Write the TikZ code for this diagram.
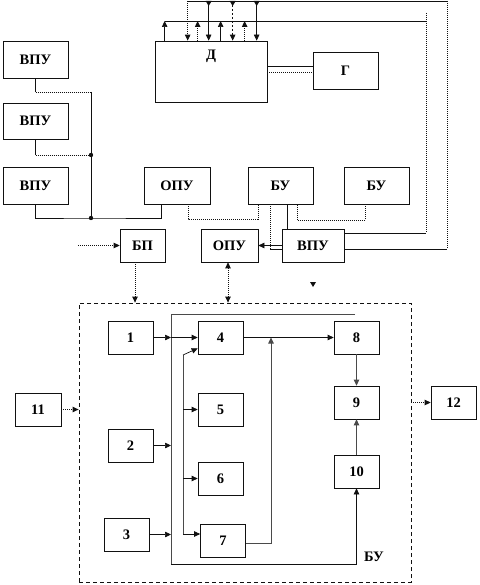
\documentclass[tikz,border=0pt]{standalone}
\usepackage{fontspec}
\setmainfont{Liberation Serif}
\usepackage{tikz}
\usepackage{xcolor}
\usetikzlibrary{arrows.meta,positioning,calc}
\definecolor{ink}{HTML}{111111}
\definecolor{inkgray}{HTML}{4A4A4A}
\tikzset{
  unitbox/.style={draw=ink,fill=white,line width=0.7pt,
                  minimum width=65pt,minimum height=37pt,
                  inner sep=0pt,align=center,font=\fontsize{14.5}{16}\selectfont\bfseries},
  numbox/.style={unitbox,minimum width=45pt,minimum height=33pt},
  wire/.style={line width=0.7pt,color=ink},
  dotwire/.style={line width=0.9pt,color=ink,dash pattern=on 1pt off 1pt},
  dashwire/.style={line width=0.8pt,color=ink,dash pattern=on 2pt off 2pt},
  buswire/.style={line width=0.8pt,color=inkgray},
  flowarr/.style={-{Triangle[length=6pt,width=5.5pt]}},
  dualarr/.style={{Triangle[length=6pt,width=5.5pt]}-{Triangle[length=6pt,width=5.5pt]}},
  frameline/.style={draw=ink,line width=0.8pt,dash pattern=on 4pt off 3pt}
}

\begin{document}
\begin{tikzpicture}[x=1pt,y=-1pt]
  \useasboundingbox (0,0) rectangle (479,585);

  \node[unitbox] (vpuA) at (35.5,59.5) {ВПУ};
  \node[unitbox,minimum height=36pt] (vpuB) at (35.5,121) {ВПУ};
  \node[unitbox] (vpuC) at (35.5,185.5) {ВПУ};
  \node[unitbox,minimum width=112pt,minimum height=61pt,text depth=33pt] (dbox) at (211,71.5) {Д};
  \node[unitbox] (gbox) at (345.5,70.5) {Г};
  \node[unitbox,minimum width=66pt] (opuA) at (177,185.5) {ОПУ};
  \node[unitbox] (buA) at (280.5,185.5) {БУ};
  \node[unitbox] (buB) at (376.5,185.5) {БУ};
  \node[numbox] (bp) at (142.5,245.5) {БП};
  \node[numbox,minimum width=57pt] (opuB) at (229.5,245.5) {ОПУ};
  \node[numbox,minimum width=62pt] (vpuD) at (313,245.5) {ВПУ};

  \node[frameline,minimum width=332pt,minimum height=279pt,inner sep=0pt] (frame) at (245,442.5) {};
  \node[numbox] (b1) at (130.5,337.5) {1};
  \node[numbox] (b2) at (130.5,445.5) {2};
  \node[numbox] (b3) at (126.5,534.5) {3};
  \node[numbox] (b4) at (220.5,337.5) {4};
  \node[numbox] (b5) at (220.5,409.5) {5};
  \node[numbox] (b6) at (220.5,478.5) {6};
  \node[numbox] (b7) at (223,540.5) {7};
  \node[numbox] (b8) at (356.5,337.5) {8};
  \node[numbox] (b9) at (356.5,402.5) {9};
  \node[numbox] (b10) at (356.5,471.5) {10};
  \node[numbox,minimum width=46pt] (b11) at (38,409.5) {11};
  \node[numbox] (b12) at (453.5,402.5) {12};
  \node[font=\fontsize{14.5}{16}\selectfont\bfseries] (buLbl) at (374,557) {БУ};

  % bus lines above the detector
  \coordinate (topL) at (188,1);
  \coordinate (topR) at (447,1);
  \coordinate (midL) at (165,21);
  \coordinate (midR) at (426,21);
  \foreach \n/\dx in {1/10,2/33,3/43,4/54,5/66,6/78,7/90,8/102}
    \coordinate (t\n) at ([xshift=\dx pt]dbox.north west);

  \draw[wire] (t1 |- midL) -- (midR);
  \draw[dotwire] ([yshift=8pt]midR) -- (midR |- 0,233);
  \draw[wire] ([yshift=12.5pt]vpuD.east) -- ([yshift=12.5pt]vpuD.east -| midR);
  \draw[wire] (topL) -- (topR);
  \draw[dotwire] (topR) -- (topR |- 0,249);
  \draw[wire] ([yshift=-3.5pt]vpuD.east) -- ([yshift=-3.5pt]vpuD.east -| topR);

  \draw[wire,flowarr] (t1) -- (t1 |- midL);
  \draw[dotwire,flowarr] (t2 |- topL) -- (t2);
  \draw[dotwire,flowarr] (t3) -- (t3 |- midL);
  \draw[wire,flowarr] (t4 |- topL) -- (t4);
  \draw[wire,flowarr] (t5) -- (t5 |- midL);
  \draw[dashwire,flowarr] (t6 |- topL) -- (t6);
  \draw[dotwire,flowarr] (t7) -- (t7 |- midL);
  \draw[wire,flowarr] (t8 |- topL) -- (t8);
  \foreach \n in {4,6,8}
    \fill[ink] (t\n |- topL) ++(-3,0) -- ++(6,0) -- ++(-3,5) -- cycle;

  \draw[wire] ([yshift=5.5pt]dbox.east) -- ([yshift=5.5pt]dbox.east -| gbox.west);
  \draw[dotwire] ([yshift=-0.5pt]dbox.east) -- ([yshift=-0.5pt]dbox.east -| gbox.west);

  % left column
  \coordinate (jA) at (91,92);
  \coordinate (jB) at (91,155);
  \coordinate (jC) at (91,218);
  \draw[wire] (vpuA.south) -- (vpuA.south |- jA);
  \draw[dotwire] (vpuA.south |- jA) -- (jA);
  \draw[wire] (vpuB.south) -- (vpuB.south |- jB);
  \draw[dotwire] (vpuB.south |- jB) -- (jB);
  \draw[wire] (jA) -- (jC);
  \draw[wire] (vpuC.south) |- (jC) -| ([xshift=-16pt]opuA.south);
  \fill[ink] (jB) circle (2.2pt) (jC) circle (2.2pt);

  \draw[dotwire] ([xshift=11pt]opuA.south) -- ++(0,15) -| ([xshift=-22.5pt]buA.south);
  \draw[dotwire] ([xshift=-11.5pt]buB.south) -- ++(0,16) -| ([xshift=16.5pt]buA.south);
  \draw[wire] ([xshift=6.5pt]buA.south) -- ([xshift=6.5pt]buA.south |- vpuD.north);
  \draw[dotwire] ([xshift=-10.5pt]buA.south) -- ([xshift=-10.5pt]buA.south |- 0,249);
  \draw[wire] ([yshift=-3.5pt]vpuD.west) -- ([xshift=-10.5pt]buA.south |- 0,249);
  \draw[wire,flowarr] (vpuD.west) -- (opuB.east);

  \coordinate (bpIn) at (78,245.5);
  \draw[dotwire,flowarr] (bpIn) -- (bp.west);
  \draw[dotwire,flowarr] ([xshift=-7.5pt]bp.south) -- ([xshift=-7.5pt]bp.south |- frame.north);
  \draw[dotwire,dualarr] ([xshift=-1.5pt]opuB.south) -- ([xshift=-1.5pt]opuB.south |- frame.north);
  \fill[ink] (313,282) ++(-3,0) -- ++(6,0) -- ++(-3,5) -- cycle;

  % inside the control unit
  \coordinate (busT) at (171,314);
  \coordinate (busR) at (355,314);
  \coordinate (busB) at (171,564);
  \coordinate (brT) at (183,355);
  \coordinate (j48) at (271,337.5);
  \draw[buswire] (busR) -- (busT) -- (busB);
  \draw[wire,flowarr] (busB) -| (b10.south);
  \draw[wire,flowarr] (b1) -- (b1 -| busT);
  \draw[wire,flowarr] (b1 -| busT) -- (b4);
  \draw[wire,flowarr] (b2) -- (b2 -| busT);
  \draw[wire,flowarr] (b3) -- (b3 -| busT);
  \draw[buswire] (brT) -- (brT |- 0,534);
  \draw[wire,flowarr] (brT) -- ([yshift=6pt]b4.south west);
  \draw[wire,flowarr] (brT |- b5) -- (b5);
  \draw[wire,flowarr] (brT |- b6) -- (b6);
  \draw[wire,flowarr] (brT |- 0,534) -- (b7.west |- 0,534);
  \draw[wire,flowarr] (b4) -- (b8);
  \draw[buswire,flowarr] ([yshift=-2.5pt]b7.east) -| (j48);
  \draw[buswire,flowarr] (b8) -- (b9);
  \draw[buswire,flowarr] (b10) -- (b9);
  \draw[dotwire,flowarr] (b11) -- (b11 -| frame.west);
  \draw[dotwire,flowarr] (b12 -| frame.east) -- (b12);
\end{tikzpicture}
\end{document}
